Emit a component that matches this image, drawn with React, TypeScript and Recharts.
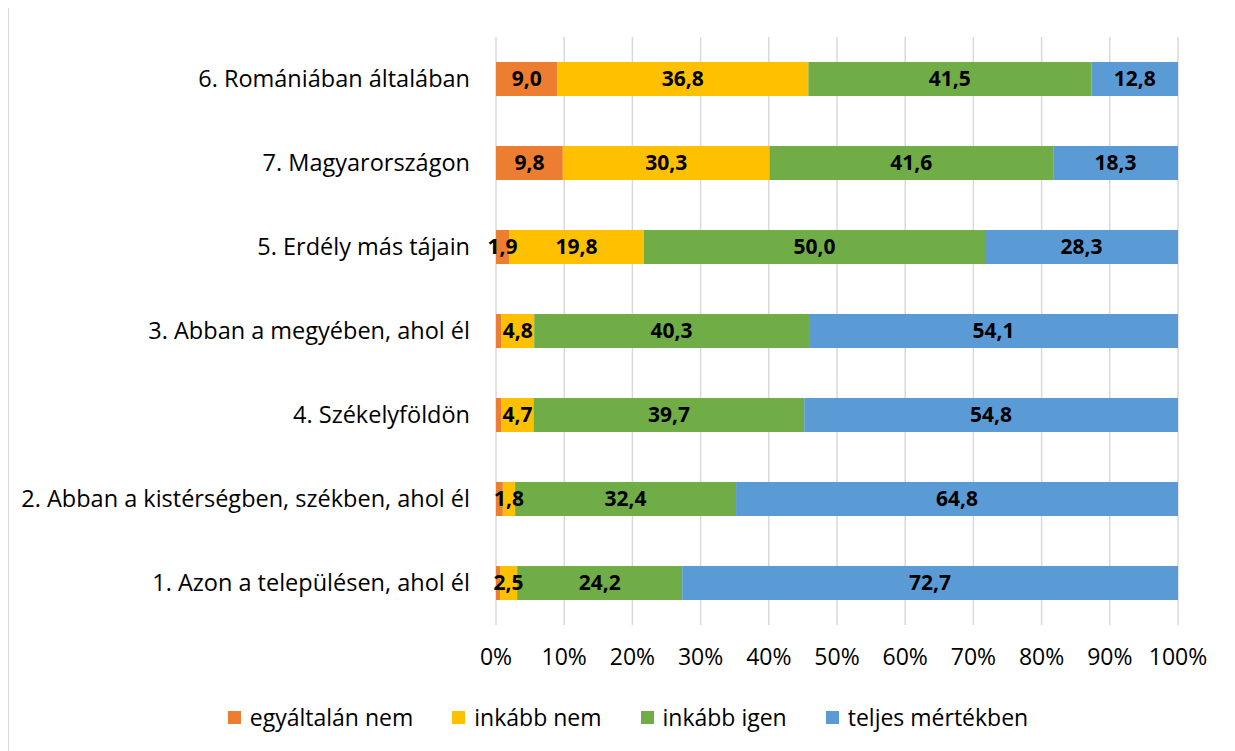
import { Bar, BarChart, CartesianGrid, LabelList, Legend, XAxis, YAxis } from 'recharts';

const categories = [
  '6. Romániában általában',
  '7. Magyarországon',
  '5. Erdély más tájain',
  '3. Abban a megyében, ahol él',
  '4. Székelyföldön',
  '2. Abban a kistérségben, székben, ahol él',
  '1. Azon a településen, ahol él',
];

const egyaltalanNem = [9.0, 9.8, 1.9, 0.8, 0.8, 1.0, 0.6];
const inkabbNem = [36.8, 30.3, 19.8, 4.8, 4.7, 1.8, 2.5];
const inkabbIgen = [41.5, 41.6, 50.0, 40.3, 39.7, 32.4, 24.2];
const teljesMertekben = [12.8, 18.3, 28.3, 54.1, 54.8, 64.8, 72.7];

const xTicks = [0, 10, 20, 30, 40, 50, 60, 70, 80, 90, 100];

const series = [
  { key: 'egyaltalan', name: 'egyáltalán nem', color: '#ED7D31' },
  { key: 'inkabbNem', name: 'inkább nem', color: '#FFC000' },
  { key: 'inkabbIgen', name: 'inkább igen', color: '#70AD47' },
  { key: 'teljes', name: 'teljes mértékben', color: '#5B9BD5' },
];

const data = categories.map((name, i) => ({
  name,
  egyaltalan: egyaltalanNem[i],
  inkabbNem: inkabbNem[i],
  inkabbIgen: inkabbIgen[i],
  teljes: teljesMertekben[i],
}));

const font = '"Open Sans", Lato, sans-serif';

const formatValue = (v: unknown) => {
  const n = Number(v);
  if (!(n >= 1.5)) return '';
  return n.toFixed(1).replace('.', ',');
};

const renderLegend = () => (
  <div style={{ display: 'flex', justifyContent: 'center', alignItems: 'center', height: 30, paddingLeft: 69, fontFamily: font, fontSize: 23, color: '#000' }}>
    {series.map((s, i) => (
      <div key={s.key} style={{ display: 'flex', alignItems: 'center', marginLeft: i === 0 ? 0 : 39 }}>
        <span style={{ display: 'inline-block', width: 13, height: 13, background: s.color, marginRight: 9 }} />
        <span>{s.name}</span>
      </div>
    ))}
  </div>
);

export default function App() {
  return (
    <div style={{ width: 1226, height: 743, marginTop: -1, borderTop: '1px solid #d9d9d9', borderLeft: '1px solid #d9d9d9', background: '#fff' }}>
      <BarChart
        width={1226}
        height={735}
        data={data}
        layout="vertical"
        barSize={34}
        margin={{ top: 29, right: 57, left: 0, bottom: 11 }}
      >
        <CartesianGrid horizontal={false} stroke="#d9d9d9" strokeWidth={1.5} />
        <XAxis
          type="number"
          domain={[0, 100]}
          ticks={xTicks}
          allowDataOverflow
          axisLine={false}
          tickLine={false}
          tickSize={0}
          tickMargin={24}
          height={77}
          tickFormatter={(v: number) => `${v}%`}
          tick={{ fill: '#000', fontSize: 23, fontFamily: font }}
        />
        <YAxis
          type="category"
          dataKey="name"
          width={487}
          axisLine={false}
          tickLine={false}
          tickSize={0}
          tickMargin={26}
          tick={{ fill: '#000', fontSize: 23.5, fontFamily: font }}
        />
        <Legend verticalAlign="bottom" content={renderLegend} />
        {series.map((s) => (
          <Bar key={s.key} dataKey={s.key} name={s.name} stackId="a" fill={s.color} isAnimationActive={false}>
            <LabelList
              dataKey={s.key}
              position="center"
              formatter={formatValue}
              fill="#000"
              style={{ fontSize: 21, fontWeight: 700, fontFamily: font }}
            />
          </Bar>
        ))}
      </BarChart>
    </div>
  );
}
